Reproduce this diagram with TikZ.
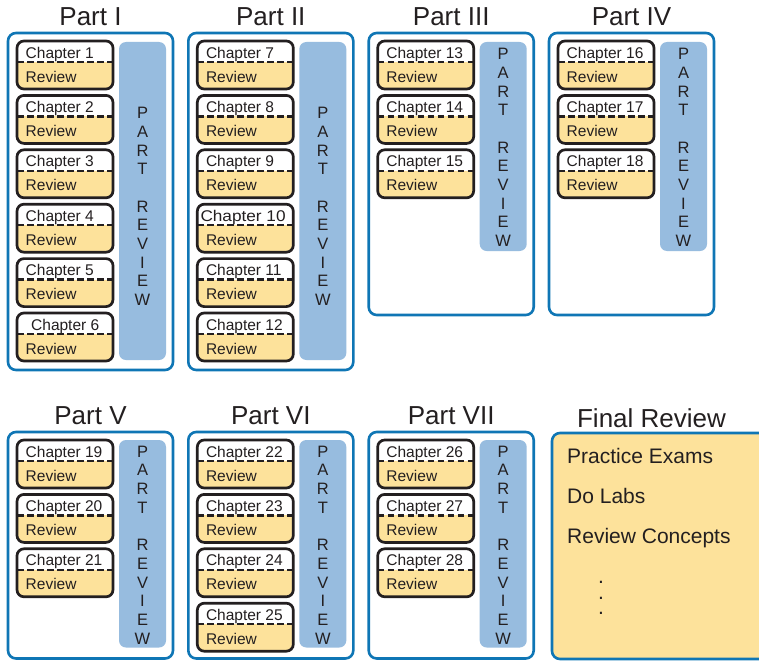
\documentclass[tikz,border=0pt]{standalone}
\usepackage{fontspec}
\setmainfont{Liberation Sans}
\definecolor{partblue}{HTML}{0F76B5}
\definecolor{barblue}{HTML}{97BCDF}
\definecolor{revyel}{HTML}{FDE29B}
\definecolor{ink}{HTML}{231F20}
\tikzset{
  partframe/.style={draw=partblue, line width=2.6pt, rounded corners=8pt, fill=white},
  barfill/.style={fill=barblue, rounded corners=7pt},
  chapframe/.style={draw=ink, line width=2.7pt, rounded corners=7pt},
  sepline/.style={draw=ink, line width=2.5pt, dash pattern=on 6.5pt off 3.5pt},
  chaptxt/.style={anchor=base west, inner sep=0pt, font=\fontsize{15.5}{18}\selectfont, text=ink},
  titletxt/.style={inner sep=0pt, font=\fontsize{26}{30}\selectfont, text=ink},
  lettxt/.style={inner sep=0pt, align=center, font=\fontsize{16.5}{18.7}\selectfont, text=ink},
  itemtxt/.style={anchor=base west, inner sep=0pt, font=\fontsize{21}{24}\selectfont, text=ink},
  dottxt/.style={inner sep=0pt, align=center, font=\fontsize{21}{15.5}\selectfont, text=ink},
}
% #1 x, #2 top, #3 number, #4 text offset, #5 text
\newcommand\chapbox[5]{%
  \begin{scope}
    \clip[rounded corners=7pt] (#1,#2) rectangle ({#1+96},{#2+48});
    \fill[white] (#1,#2) rectangle ({#1+96},{#2+48});
    \fill[revyel] (#1,{#2+21}) rectangle ({#1+96},{#2+48});
  \end{scope}
  \draw[sepline] (#1,{#2+21}) -- ({#1+96},{#2+21});
  \draw[chapframe] (#1,#2) rectangle ({#1+96},{#2+48});
  \node[chaptxt] (ch#3) at ({#1+#4},{#2+17}) {#5};
  \node[chaptxt] (rv#3) at ({#1+8.5},{#2+41}) {Review};
}
% #1 x0, #2 box top, #3 box bottom, #4 bar top, #5 bar bottom, #6 title, #7 title y, #8 letters y, #9 name
\newcommand\partcol[9]{%
  \draw[partframe] ({#1-9},#2) rectangle ({#1+156},#3);
  \fill[barfill] ({#1+102},#4) rectangle ({#1+149},#5);
  \node[titletxt] (t#9) at ({#1+73.5},#7) {#6};
  \node[lettxt] (l#9) at ({#1+125.5},#8) {P\\A\\R\\T\\[18.7pt]R\\E\\V\\I\\E\\W};
}
\begin{document}
\begin{tikzpicture}[x=1pt,y=-1pt]
\useasboundingbox (0,0) rectangle (759,661);
\clip (0,0) rectangle (759,661);

% Row 1
\partcol{17}{33}{370}{42}{360}{Part I}{17}{206.5}{p1}
\chapbox{17}{41}{1}{8.5}{Chapter 1}
\chapbox{17}{95.4}{2}{8.5}{Chapter 2}
\chapbox{17}{149.8}{3}{8.5}{Chapter 3}
\chapbox{17}{204.2}{4}{8.5}{Chapter 4}
\chapbox{17}{258.6}{5}{8.5}{Chapter 5}
\chapbox{17}{313}{6}{14}{Chapter 6}

\partcol{197.3}{33}{370}{42}{360}{Part II}{17}{206.5}{p2}
\chapbox{197.3}{41}{7}{8.5}{Chapter 7}
\chapbox{197.3}{95.4}{8}{8.5}{Chapter 8}
\chapbox{197.3}{149.8}{9}{8.5}{Chapter 9}
\chapbox{197.3}{204.2}{10}{3}{\scalebox{1.11}[1]{Chapter 10}}
\chapbox{197.3}{258.6}{11}{8.5}{Chapter 11}
\chapbox{197.3}{313}{12}{8.5}{Chapter 12}

\partcol{377.7}{33}{315}{42}{251}{Part III}{17}{147.5}{p3}
\chapbox{377.7}{41}{13}{8.5}{Chapter 13}
\chapbox{377.7}{95.4}{14}{8.5}{Chapter 14}
\chapbox{377.7}{149.8}{15}{8.5}{Chapter 15}

\partcol{558}{33}{315}{42}{251}{Part IV}{17}{147.5}{p4}
\chapbox{558}{41}{16}{8.5}{Chapter 16}
\chapbox{558}{95.4}{17}{8.5}{Chapter 17}
\chapbox{558}{149.8}{18}{8.5}{Chapter 18}

% Row 2
\partcol{17}{432}{658.5}{440}{647.5}{Part V}{416}{545}{p5}
\chapbox{17}{440}{19}{8.5}{Chapter 19}
\chapbox{17}{494.4}{20}{8.5}{Chapter 20}
\chapbox{17}{548.8}{21}{8.5}{Chapter 21}

\partcol{197.3}{432}{658.5}{440}{647.5}{Part VI}{416}{545}{p6}
\chapbox{197.3}{440}{22}{8.5}{Chapter 22}
\chapbox{197.3}{494.4}{23}{8.5}{Chapter 23}
\chapbox{197.3}{548.8}{24}{8.5}{Chapter 24}
\chapbox{197.3}{603.2}{25}{8.5}{Chapter 25}

\partcol{377.7}{432}{658.5}{440}{647.5}{Part VII}{416}{545}{p7}
\chapbox{377.7}{440}{26}{8.5}{Chapter 26}
\chapbox{377.7}{494.4}{27}{8.5}{Chapter 27}
\chapbox{377.7}{548.8}{28}{8.5}{Chapter 28}

% Final review
\draw[draw=partblue, line width=2.6pt, rounded corners=8pt, fill=revyel] (552,433) rectangle (790,659);
\node[titletxt] (tfinal) at (651.5,418) {Final Review};
\node[itemtxt] (exams) at (567,463) {Practice Exams};
\node[itemtxt] (labs) at (567,503) {Do Labs};
\node[itemtxt] (concepts) at (567,543) {Review Concepts};
\node[dottxt] (dots) at (601,598) {.\\.\\.};
\end{tikzpicture}
\end{document}
